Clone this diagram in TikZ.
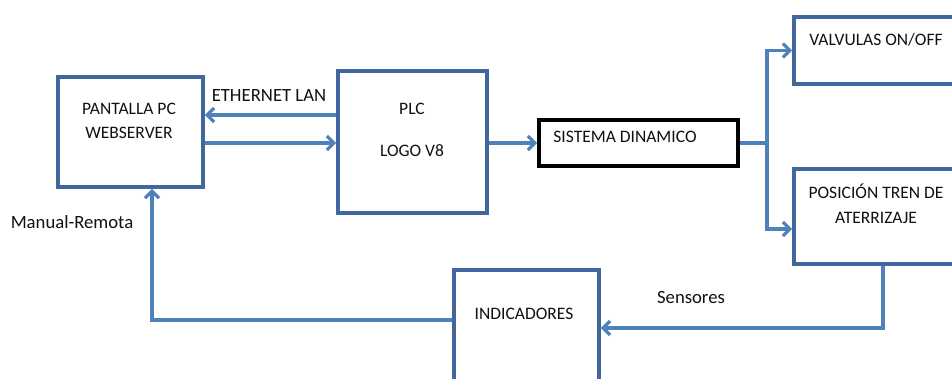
\documentclass[tikz,border=0pt]{standalone}
\usepackage{fontspec}
\setmainfont{Carlito}
\usetikzlibrary{arrows.meta,shadows}
\definecolor{linkblue}{HTML}{4F81BD}
\definecolor{boxblue}{HTML}{41679C}
\definecolor{ink}{HTML}{111111}
\begin{document}
\begin{tikzpicture}[x=1pt,y=-1pt,
  blk/.style={draw=boxblue,line width=3.8pt,fill=white,rectangle,inner sep=0pt,
    drop shadow={opacity=0.22,shadow xshift=2pt,shadow yshift=-2pt}},
  blkblack/.style={blk,draw=black},
  link/.style={draw=linkblue,line width=3.2pt,-{Straight Barb[length=7pt,width=14pt]}},
  linkplain/.style={draw=linkblue,line width=3.2pt},
  txt/.style={font=\fontsize{17.5}{20}\selectfont,text=ink,inner sep=0pt,anchor=base},
  lbl/.style={font=\fontsize{18.7}{21}\selectfont,text=ink,inner sep=0pt,anchor=base}]
\clip (0,0) rectangle (952,378);
\fill[white] (0,0) rectangle (952,378);
% boxes
\node[blk,minimum width=145pt,minimum height=110pt] (pant) at (130.5,132) {};
\node[blk,minimum width=149pt,minimum height=142pt] (plc) at (412.5,142) {};
\node[blkblack,minimum width=199pt,minimum height=46pt] (sis) at (638.5,143) {};
\node[blk,minimum width=166pt,minimum height=67pt] (val) at (877,50.5) {};
\node[blk,minimum width=166pt,minimum height=95pt] (pos) at (877,216.5) {};
\node[blk,minimum width=145pt,minimum height=130pt] (ind) at (526.5,335) {};
% texts
\node[txt] (tpant1) at (129,114.6) {PANTALLA PC};
\node[txt] (tpant2) at (129,138.6) {WEBSERVER};
\node[txt] (tplc1) at (412,114.6) {PLC};
\node[txt] (tplc2) at (412,156.6) {LOGO V8};
\node[txt] (tsis) at (625,142.6) {SISTEMA DINAMICO};
\node[txt] (tval) at (876,45.6) {VALVULAS ON/OFF};
\node[txt] (tpos1) at (876,198.6) {POSICIÓN TREN DE};
\node[txt] (tpos2) at (876,223.6) {ATERRIZAJE};
\node[txt] (tind) at (524,319.6) {INDICADORES};
\node[lbl] (leth) at (269,101) {ETHERNET LAN};
\node[lbl] (lsen) at (691,303) {Sensores};
\node[lbl] (lman) at (72,228) {Manual-Remota};
% connectors
\draw[link] (plc.west |- 0,115) -- (pant.east |- 0,115);
\draw[link] (pant.east |- 0,143) -- (plc.west |- 0,143);
\draw[link] (plc.east |- sis.west) -- (sis.west);
\coordinate (br) at (767,143);
\draw[linkplain] (sis.east) -- (br);
\draw[link] (br) |- (val.west);
\draw[link] (br) |- (pos.west |- 0,229);
\coordinate (s1) at (883,328);
\draw[link] (pos.south -| s1) -- (s1) -- (ind.east |- s1);
\coordinate (m1) at (152,320);
\draw[link] (ind.west |- m1) -- (m1) -- (pant.south -| m1);
\end{tikzpicture}
\end{document}
